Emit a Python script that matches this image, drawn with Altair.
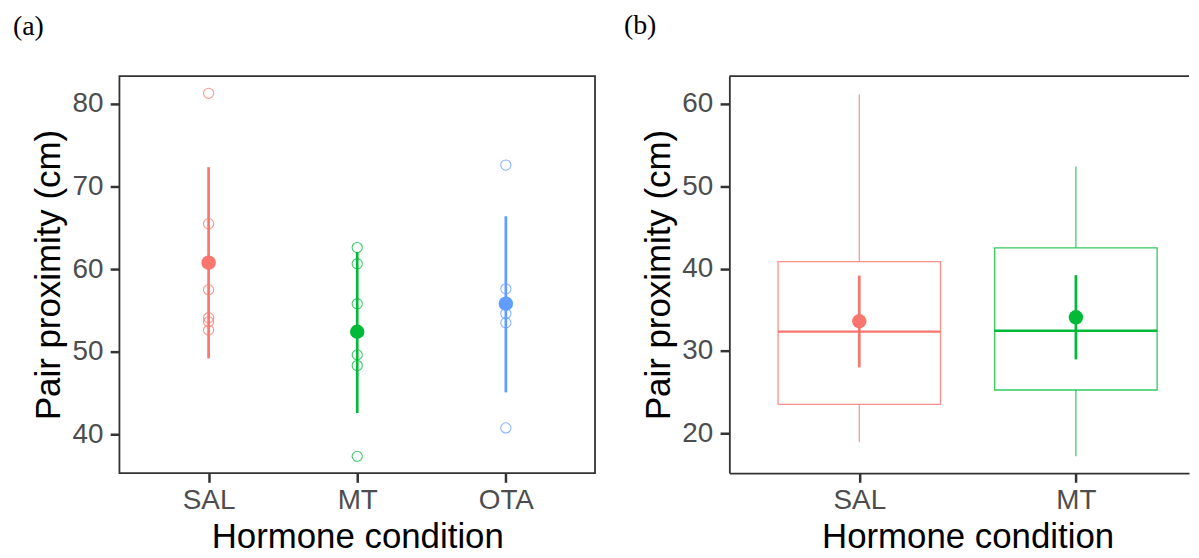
import altair as alt
import pandas as pd

# ---------------- data: panel (a) ----------------
cats_a = ["SAL", "MT", "OTA"]
colors = ["#F8766D", "#00BA38", "#619CFF"]
pts_sal = [81.3, 65.5, 57.5, 54.1, 53.6, 52.6]
pts_mt = [62.6, 60.65, 55.8, 49.6, 48.3, 37.3]
pts_ota = [72.6, 57.6, 54.6, 53.5, 40.75]
means_a = [60.77, 52.4, 55.8]
lower_a = [49.17, 42.56, 45.05]
upper_a = [72.35, 62.07, 66.4]

# ---------------- data: panel (b) ----------------
cats_b = ["SAL", "MT"]
whisk_lo = [18.92, 17.2]
q1_b = [23.5, 25.25]
median_b = [32.34, 32.45]
q3_b = [40.85, 42.52]
whisk_hi = [61.16, 52.4]
means_b = [33.6, 34.08]
lower_b = [28.0, 28.97]
upper_b = [39.15, 39.2]

AX = "#333333"
LAB = "#4D4D4D"
SANS = "Liberation Sans"
SERIF = "Liberation Serif"

pts_df = pd.DataFrame({
    "cond": ["SAL"] * len(pts_sal) + ["MT"] * len(pts_mt) + ["OTA"] * len(pts_ota),
    "value": pts_sal + pts_mt + pts_ota,
})
summ_a = pd.DataFrame({"cond": cats_a, "mean": means_a, "lo": lower_a, "hi": upper_a})

color_scale = alt.Scale(domain=cats_a, range=colors)
col = alt.Color("cond:N", scale=color_scale, legend=None)

W_A, H = 478, 399
x_a = alt.X("cond:N", sort=cats_a, scale=alt.Scale(type="point", padding=0.6),
            axis=alt.Axis(title="Hormone condition", labelAngle=0, domain=False))
y_scale_a = alt.Scale(domain=[35.28, 83.39], nice=False, zero=False)
y_axis_a = alt.Axis(title="Pair proximity (cm)", values=[40, 50, 60, 70, 80], domain=False)

pts = alt.Chart(pts_df).mark_point(shape="circle", filled=False, size=105, strokeWidth=1.1, opacity=0.75).encode(
    x=x_a, y=alt.Y("value:Q", scale=y_scale_a, axis=y_axis_a), color=col)
bars_a = alt.Chart(summ_a).mark_rule(strokeWidth=2.7).encode(
    x=x_a, y=alt.Y("lo:Q", scale=y_scale_a, axis=y_axis_a), y2="hi:Q", color=col)
mean_a = alt.Chart(summ_a).mark_circle(size=210, opacity=1).encode(
    x=x_a, y=alt.Y("mean:Q", scale=y_scale_a, axis=y_axis_a), color=col)

panel_a = alt.layer(pts, bars_a, mean_a).properties(
    width=W_A, height=H,
    title=alt.TitleParams("(a)", anchor="start", frame="group", dx=-107, offset=35,
                          font=SERIF, fontSize=28, fontWeight="normal", color="black"),
)

# ---------------- panel (b) ----------------
STEP_B = 217.7
W_B = 462
dom_right = -0.6 + W_B / STEP_B
box_df = pd.DataFrame({
    "cond": cats_b, "idx": list(range(len(cats_b))),
    "wlo": whisk_lo, "q1": q1_b, "med": median_b, "q3": q3_b, "whi": whisk_hi,
    "mean": means_b, "lo": lower_b, "hi": upper_b,
})
label_expr = "[" + ",".join("'%s'" % c for c in cats_b) + "][datum.value]"
x_b_scale = alt.Scale(domain=[-0.6, dom_right], nice=False, zero=False)
x_b_axis = alt.Axis(title="Hormone condition", values=list(range(len(cats_b))), labelExpr=label_expr,
                    labelAngle=0, domain=True, domainColor=AX, domainWidth=1.8,
                    titleX=STEP_B * (len(cats_b) - 1 + 1.2) / 2, titleAnchor="middle")
y_b_scale = alt.Scale(domain=[15.16, 63.39], nice=False, zero=False)
y_b_axis = alt.Axis(title="Pair proximity (cm)", values=[20, 30, 40, 50, 60],
                    domain=True, domainColor=AX, domainWidth=1.8)

base_b = alt.Chart(box_df).transform_calculate(
    left="datum.idx - 0.375", right="datum.idx + 0.375")

whisk_up = base_b.mark_rule(strokeWidth=1.2, opacity=0.8).encode(
    x=alt.X("idx:Q", scale=x_b_scale, axis=x_b_axis),
    y=alt.Y("q3:Q", scale=y_b_scale, axis=y_b_axis), y2="whi:Q", color=col)
whisk_dn = base_b.mark_rule(strokeWidth=1.2, opacity=0.8).encode(
    x=alt.X("idx:Q", scale=x_b_scale, axis=x_b_axis),
    y=alt.Y("wlo:Q", scale=y_b_scale, axis=y_b_axis), y2="q1:Q", color=col)
box = base_b.mark_rect(filled=False, strokeWidth=1.3, strokeOpacity=0.8).encode(
    x=alt.X("left:Q", scale=x_b_scale, axis=x_b_axis), x2="right:Q",
    y=alt.Y("q1:Q", scale=y_b_scale, axis=y_b_axis), y2="q3:Q",
    stroke=alt.Stroke("cond:N", scale=color_scale, legend=None))
med = base_b.mark_rule(strokeWidth=2.4).encode(
    x=alt.X("left:Q", scale=x_b_scale, axis=x_b_axis), x2="right:Q",
    y=alt.Y("med:Q", scale=y_b_scale, axis=y_b_axis), color=col)
ebar_b = base_b.mark_rule(strokeWidth=2.7).encode(
    x=alt.X("idx:Q", scale=x_b_scale, axis=x_b_axis),
    y=alt.Y("lo:Q", scale=y_b_scale, axis=y_b_axis), y2="hi:Q", color=col)
mean_b = base_b.mark_circle(size=210, opacity=1).encode(
    x=alt.X("idx:Q", scale=x_b_scale, axis=x_b_axis),
    y=alt.Y("mean:Q", scale=y_b_scale, axis=y_b_axis), color=col)
top_border = alt.Chart(pd.DataFrame({"k": [0]})).mark_rule(color=AX, strokeWidth=1.8).encode(
    y=alt.value(0), x=alt.value(0), x2=alt.value(W_B))

panel_b = alt.layer(whisk_up, whisk_dn, box, med, ebar_b, mean_b, top_border).properties(
    width=W_B, height=H,
    view=alt.ViewBackground(stroke="transparent"),
    title=alt.TitleParams("(b)", anchor="start", frame="group", dx=-106, offset=35,
                          font=SERIF, fontSize=28, fontWeight="normal", color="black"),
)

chart = alt.hconcat(panel_a, panel_b, spacing=135, bounds="flush",
                    padding={"left": 4, "top": 2, "right": 0, "bottom": 0}).configure_view(
    stroke=AX, strokeWidth=1.8
).configure_axis(
    grid=False, tickColor=AX, tickWidth=2.5, tickSize=9.3,
    labelColor=LAB, labelFont=SANS, labelFontSize=28,
    titleFont=SANS, titleFontSize=35, titleColor="black", titleFontWeight="normal",
).configure_axisY(labelPadding=7.3, titlePadding=5).configure_axisX(labelPadding=4, titlePadding=6)

chart.save("out.html", embed_options={"renderer": "svg", "actions": False})
